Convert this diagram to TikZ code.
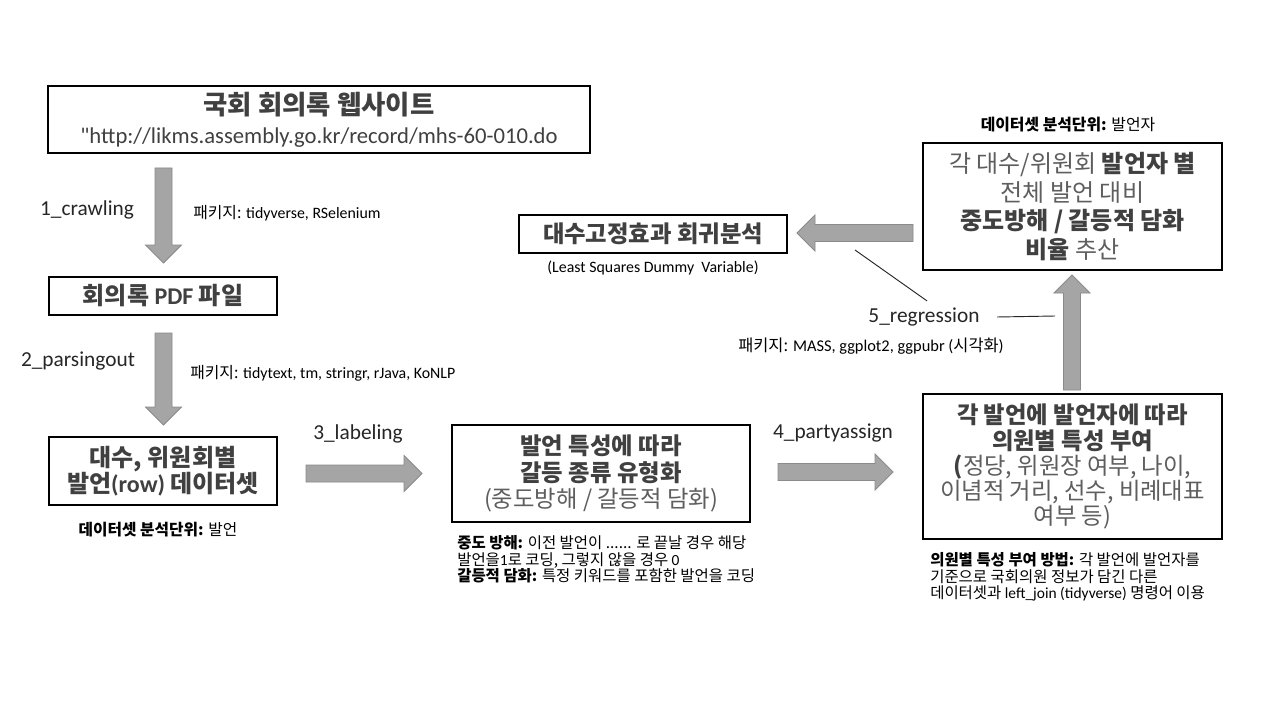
\documentclass[tikz,border=0pt]{standalone}
\usepackage{fontspec}
\setmainfont{Noto Sans CJK KR}
\newfontfamily\latfont{Carlito}
\newcommand\Lt[1]{{\latfont #1}}
\usetikzlibrary{calc}
\definecolor{boxtext}{HTML}{404040}
\definecolor{lighttext}{HTML}{5E5E5E}
\definecolor{arrfill}{HTML}{A5A5A5}
\definecolor{arrline}{HTML}{8A8A8A}
\definecolor{labeltext}{HTML}{262626}
\tikzset{
  box/.style={draw=black, line width=1pt, align=center, inner sep=0pt, text=boxtext},
  lbl/.style={font=\latfont\fontsize{16}{19}\selectfont, text=labeltext, inner sep=0pt},
  pkg/.style={font=\fontsize{11.9}{13}\selectfont, text=black, inner sep=0pt, anchor=west},
  note/.style={font=\fontsize{11.6}{12.6}\selectfont, align=left, inner sep=0pt, text=black, anchor=north west},
  thinline/.style={draw=black!85, line width=0.7pt},
  pics/barrow/.style={code={%
    \draw[fill=arrfill, draw=arrline, line width=0.6pt]
      (0,-8.5) -- (#1-18,-8.5) -- (#1-18,-18) -- (#1,0) -- (#1-18,18) -- (#1-18,8.5) -- (0,8.5) -- cycle;}},
}
\begin{document}
\begin{tikzpicture}[x=0.75pt,y=-0.75pt]
\fill[white] (0,0) rectangle (1280,720);
\useasboundingbox (0,0) rectangle (1280,720);

% boxes
\node[box, minimum width=406.5pt, minimum height=50.25pt, font=\fontsize{19.8}{21.5}\selectfont] (web) at (319,119.5)
  {\bfseries 국회 회의록 웹사이트\\{\latfont\fontsize{17}{20}\selectfont "http://likms.assembly.go.kr/record/mhs-60-010.do}};
\node[box, minimum width=171pt, minimum height=28.5pt, font=\bfseries\fontsize{18}{20}\selectfont] (pdf) at (163,296)
  {회의록 \Lt{PDF} 파일};
\node[box, minimum width=171pt, minimum height=51pt, font=\bfseries\fontsize{18}{19.5}\selectfont] (rows) at (163,471)
  {대수, 위원회별\\발언\Lt{(row)} 데이터셋};
\node[box, minimum width=223.5pt, minimum height=72.75pt, font=\fontsize{17.5}{20}\selectfont] (label) at (601,473.5)
  {\bfseries 발언 특성에 따라\\\bfseries 갈등 종류 유형화\\\mdseries\color{lighttext}(중도방해 / 갈등적 담화)};
\node[box, minimum width=224.25pt, minimum height=108.75pt, font=\fontsize{17.5}{18.8}\selectfont] (party) at (1072.5,466.5)
  {\bfseries 각 발언에 발언자에 따라\\\bfseries 의원별 특성 부여\\{\bfseries(}\mdseries\color{lighttext}정당, 위원장 여부, 나이,\\\mdseries\color{lighttext}이념적 거리, 선수, 비례대표\\\mdseries\color{lighttext}여부 등)};
\node[box, minimum width=224.25pt, minimum height=95.25pt, font=\fontsize{18}{21.5}\selectfont] (ratio) at (1072.5,206.5)
  {{\color{lighttext}각 대수/위원회} \textbf{발언자 별}\\\color{lighttext}전체 발언 대비\\\bfseries 중도방해 / 갈등적 담화\\\textbf{비율} {\mdseries\color{lighttext}추산}};
\node[box, minimum width=201pt, minimum height=28.5pt, font=\bfseries\fontsize{17.5}{20}\selectfont] (reg) at (653,234)
  {대수고정효과 회귀분석};

% block arrows
\coordinate (a1) at (163.5,168);
\coordinate (a2) at (163.5,333);
\coordinate (a3) at (306,473.5);
\coordinate (a4) at (778,472);
\coordinate (a5) at (1072,390);
\coordinate (a6) at (913,233);
\pic[rotate=-90] at (a1) {barrow=95};
\pic[rotate=-90] at (a2) {barrow=92};
\pic at (a3) {barrow=116};
\pic at (a4) {barrow=115};
\pic[rotate=90] at (a5) {barrow=115};
\pic[rotate=180] at (a6) {barrow=116};

% step labels
\node[lbl] (l1) at (87,210) {1\_crawling};
\node[lbl] (l2) at (78,361) {2\_parsingout};
\node[lbl] (l3) at (358,434) {3\_labeling};
\node[lbl] (l4) at (833,433) {4\_partyassign};
\node[lbl, inner sep=5pt] (l5) at (924,317) {5\_regression};

% package notes
\node[pkg] (p1) at (193,213) {패키지: \Lt{tidyverse, RSelenium}};
\node[pkg] (p2) at (190,373) {패키지: \Lt{tidytext, tm, stringr, rJava, KoNLP}};
\node[pkg, font=\fontsize{12.3}{13.5}\selectfont] (p5) at (738,346) {패키지: \Lt{MASS, ggplot2, ggpubr (}시각화\Lt{)}};
\node[inner sep=0pt, font=\latfont\fontsize{11.9}{13}\selectfont] (lsdv) at (653,268) {(Least Squares Dummy~ Variable)};

% unit notes
\node[inner sep=0pt, font=\fontsize{11.8}{13}\selectfont] (u1) at (158,530) {\textbf{데이터셋 분석단위:} 발언};
\node[inner sep=0pt, font=\fontsize{11.9}{13}\selectfont] (u2) at (1068,125) {\textbf{데이터셋 분석단위:} 발언자};

\node[note] (n1) at (457,535)
  {\textbf{중도 방해:} 이전 발언이 ...... 로 끝날 경우 해당\\발언을\Lt{1}로 코딩, 그렇지 않을 경우 \Lt{0}\\\textbf{갈등적 담화:} 특정 키워드를 포함한 발언을 코딩};
\node[note] (n2) at (930,552)
  {\textbf{의원별 특성 부여 방법:} 각 발언에 발언자를\\기준으로 국회의원 정보가 담긴 다른\\데이터셋과 \Lt{left\_join (tidyverse)} 명령어 이용};

% callout lines for 5_regression
\coordinate (c7) at (855,250);
\coordinate (c8) at (1055,316);
\draw[thinline] (c7) -- ($(l5.north)+(3,0)$);
\draw[thinline] ([xshift=8pt]l5.east) -- (c8);
\end{tikzpicture}
\end{document}
